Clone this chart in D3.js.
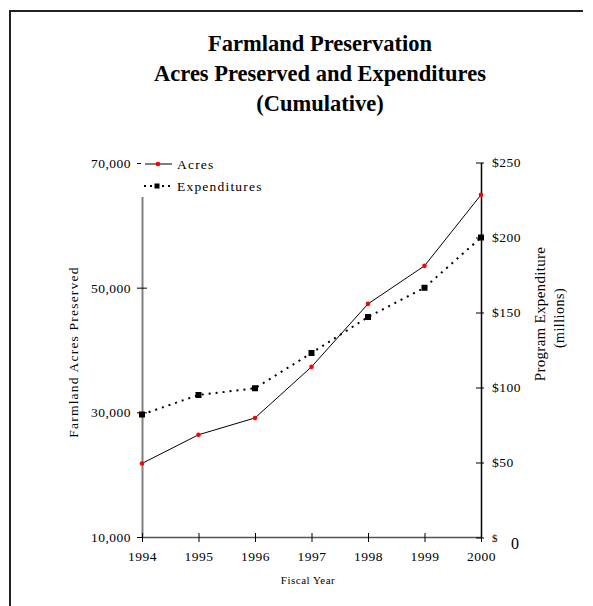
<!DOCTYPE html>
<html>
<head>
	<meta charset="utf-8">
	<title>Farmland Preservation - Acres Preserved and Expenditures</title>
	<script src="https://cdn.jsdelivr.net/npm/d3@7"></script>
	<style>
		body { margin: 0; background: #fff; }
		svg text { font-family: "Liberation Serif", "Times New Roman", serif; fill: #000; }
	</style>
</head>
<body>
	<div id="chart"></div>
	<script type="text/javascript">

		//
		// Data
		var years = [1994, 1995, 1996, 1997, 1998, 1999, 2000];
		var acres = [21800, 26400, 29100, 37300, 47400, 53500, 64900];
		var expenditures = [82, 95, 99.5, 123, 147, 166.5, 200];   // $ millions
		var acresTicks = [10000, 30000, 50000, 70000];
		var moneyTicks = [0, 50, 100, 150, 200, 250];
		var titleLines = ["Farmland Preservation", "Acres Preserved and Expenditures", "(Cumulative)"];

		var width = 593, height = 606;

		var svg = d3.select("#chart").append("svg")
			.attr("width", width)
			.attr("height", height);

		// Frame (left and top only)
		svg.append("path")
			.attr("d", "M10,606 V11 H583")
			.attr("fill", "none")
			.attr("stroke", "#222")
			.attr("stroke-width", 2);

		//
		// Scales
		var x = d3.scaleLinear().domain([1994, 2000]).range([142, 481]);
		var yL = d3.scaleLinear().domain([10000, 70000]).range([537, 163]);
		var yR = d3.scaleLinear().domain([0, 250]).range([537.5, 162.5]);

		// Title
		svg.append("g").selectAll("text")
			.data(titleLines)
			.enter().append("text")
			.attr("x", 320)
			.attr("y", function(d, i) { return 50.5 + i * 30; })
			.attr("text-anchor", "middle")
			.style("font-size", "22.5px")
			.style("font-weight", "bold")
			.text(function(d) { return d; });

		//
		// Left axis (acres)
		var leftAxis = d3.axisLeft(yL)
			.tickValues(acresTicks)
			.tickFormat(d3.format(","))
			.tickSizeInner(5)
			.tickSizeOuter(0)
			.tickPadding(6);
		var gL = svg.append("g").attr("transform", "translate(142,0)").call(leftAxis);
		gL.select(".domain").attr("stroke", "#808080").attr("stroke-width", 2);
		gL.selectAll(".tick line").attr("x2", -5).attr("x1", 5).attr("stroke", "#000");
		gL.selectAll(".tick text")
			.attr("x", -11)
			.attr("dy", "0.33em")
			.style("font-size", "13.5px")
			.style("letter-spacing", "0.5px")
			.style("font-family", "'Liberation Serif', serif");

		//
		// Bottom axis (years)
		var bottomAxis = d3.axisBottom(x)
			.tickValues(years)
			.tickFormat(d3.format("d"))
			.tickSizeInner(5)
			.tickSizeOuter(0)
			.tickPadding(9);
		var gB = svg.append("g").attr("transform", "translate(0,537)").call(bottomAxis);
		gB.select(".domain").attr("stroke", "#555").attr("stroke-width", 1.5);
		gB.selectAll(".tick line").attr("y1", -4).attr("y2", 5).attr("stroke", "#000");
		gB.selectAll(".tick text")
			.style("font-size", "13.5px")
			.style("letter-spacing", "0.5px")
			.style("font-family", "'Liberation Serif', serif");

		//
		// Right axis (expenditure)
		var rightAxis = d3.axisRight(yR)
			.tickValues(moneyTicks)
			.tickFormat(function(d) { return d === 0 ? "$" : "$" + d; })
			.tickSizeInner(4)
			.tickSizeOuter(0)
			.tickPadding(8);
		var gR = svg.append("g").attr("transform", "translate(481,0)").call(rightAxis);
		gR.select(".domain").attr("stroke", "#000").attr("stroke-width", 1.5);
		gR.selectAll(".tick line").attr("x1", -5).attr("x2", 3).attr("stroke", "#000");
		gR.selectAll(".tick text")
			.attr("x", 11)
			.attr("dy", "0.33em")
			.style("font-size", function(d) { return d === 0 ? "11px" : "13.5px"; })
			.style("letter-spacing", "0.5px")
			.style("font-family", "'Liberation Serif', serif");

		// stray "0" next to the $ tick
		svg.append("text")
			.attr("x", 511)
			.attr("y", 549)
			.style("font-size", "16px")
			.text("0");

		//
		// Axis titles
		svg.append("text")
			.attr("transform", "translate(78,352) rotate(-90)")
			.attr("text-anchor", "middle")
			.style("font-size", "13.5px")
			.style("letter-spacing", "1.2px")
			.text("Farmland Acres Preserved");
		svg.append("text")
			.attr("transform", "translate(545,314) rotate(-90)")
			.attr("text-anchor", "middle")
			.style("font-size", "15px")
			.style("letter-spacing", "0.3px")
			.text("Program Expenditure");
		svg.append("text")
			.attr("transform", "translate(564,318) rotate(-90)")
			.attr("text-anchor", "middle")
			.style("font-size", "14px")
			.style("letter-spacing", "0.5px")
			.text("(millions)");
		svg.append("text")
			.attr("x", 308)
			.attr("y", 584)
			.attr("text-anchor", "middle")
			.style("font-size", "11px")
			.style("letter-spacing", "0.5px")
			.text("Fiscal Year");

		//
		// Series
		var expLine = d3.line()
			.x(function(d, i) { return x(years[i]); })
			.y(function(d) { return yR(d); });
		var acresLine = d3.line()
			.x(function(d, i) { return x(years[i]); })
			.y(function(d) { return yL(d); });

		svg.append("path")
			.datum(expenditures)
			.attr("d", expLine)
			.attr("fill", "none")
			.attr("stroke", "#000")
			.attr("stroke-width", 2)
			.attr("stroke-dasharray", "2,5");

		svg.append("g").selectAll("rect")
			.data(expenditures)
			.enter().append("rect")
			.attr("x", function(d, i) { return x(years[i]) - 3; })
			.attr("y", function(d) { return yR(d) - 3; })
			.attr("width", 6)
			.attr("height", 6)
			.attr("fill", "#000");

		svg.append("path")
			.datum(acres)
			.attr("d", acresLine)
			.attr("fill", "none")
			.attr("stroke", "#000")
			.attr("stroke-width", 1);

		svg.append("g").selectAll("circle")
			.data(acres)
			.enter().append("circle")
			.attr("cx", function(d, i) { return x(years[i]); })
			.attr("cy", function(d) { return yL(d); })
			.attr("r", 2.3)
			.attr("fill", "#ff0000");

		//
		// Legend (white box sits over the top of the left axis)
		var legend = svg.append("g");
		legend.append("rect")
			.attr("x", 141)
			.attr("y", 152)
			.attr("width", 125)
			.attr("height", 45)
			.attr("fill", "#fff");

		legend.append("line")
			.attr("x1", 145).attr("x2", 172)
			.attr("y1", 164).attr("y2", 164)
			.attr("stroke", "#000");
		legend.append("circle")
			.attr("cx", 158).attr("cy", 164).attr("r", 2.3)
			.attr("fill", "#ff0000");
		legend.append("text")
			.attr("x", 177).attr("y", 168.5)
			.style("font-size", "13.5px")
			.style("letter-spacing", "1.2px")
			.text("Acres");

		legend.append("line")
			.attr("x1", 144).attr("x2", 172)
			.attr("y1", 186).attr("y2", 186)
			.attr("stroke", "#000")
			.attr("stroke-width", 2)
			.attr("stroke-dasharray", "2,4");
		legend.append("rect")
			.attr("x", 154.5).attr("y", 183.5).attr("width", 5).attr("height", 5)
			.attr("fill", "#000");
		legend.append("text")
			.attr("x", 177).attr("y", 190.5)
			.style("font-size", "13.5px")
			.style("letter-spacing", "1.2px")
			.text("Expenditures");

	</script>
</body>
</html>
